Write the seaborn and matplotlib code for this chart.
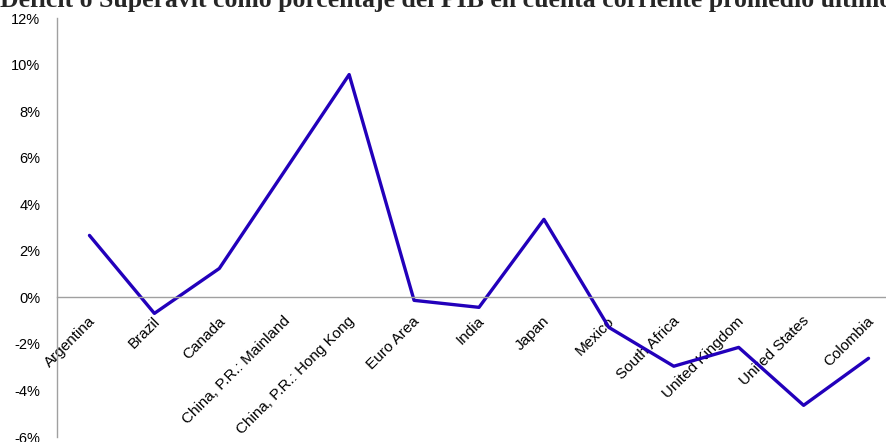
import matplotlib.pyplot as plt
import matplotlib.transforms as mtransforms
import numpy as np
import pandas as pd
import seaborn as sns
from matplotlib.ticker import FixedLocator, PercentFormatter

countries = ['Argentina', 'Brazil', 'Canada', 'China, P.R.: Mainland',
             'China, P.R.: Hong Kong', 'Euro Area', 'India', 'Japan', 'Mexico',
             'South Africa', 'United Kingdom', 'United States', 'Colombia']
balance = [2.66, -0.69, 1.24, 5.40, 9.57, -0.13, -0.43, 3.35, -1.29,
           -2.96, -2.15, -4.64, -2.62]
yticks = [-6, -4, -2, 0, 2, 4, 6, 8, 10, 12]
title = 'Déficit o Superávit como porcentaje del PIB en cuenta corriente promedio últimos años'

df = pd.DataFrame({'pais': countries, 'saldo': balance})

sns.set_style('white')
plt.rcParams['font.family'] = ['Liberation Sans', 'DejaVu Sans']
plt.rcParams['axes.unicode_minus'] = False

fig = plt.figure(figsize=(8.86, 4.42), dpi=100)
ax = fig.add_axes([57 / 886, 1 - 437 / 442, (901 - 57) / 886, (437 - 18) / 442])

sns.lineplot(data=df, x='pais', y='saldo', sort=False, color='#2200bb',
             linewidth=2.4, ax=ax)

ax.set_xlim(-0.5, len(countries) - 0.5)
ax.set_ylim(-6, 12)
ax.set_yticks(yticks)
ax.yaxis.set_major_formatter(PercentFormatter(decimals=0))
ax.set_xlabel('')
ax.set_ylabel('')

# eje izquierdo + eje horizontal en 0
for s in ['top', 'right']:
    ax.spines[s].set_visible(False)
ax.spines['bottom'].set_position(('data', 0))
for s in ['left', 'bottom']:
    ax.spines[s].set_color('#a0a0a0')
    ax.spines[s].set_linewidth(1.0)

# marcas entre categorias, etiquetas en el centro
ax.set_xticks(range(len(countries)))
ax.set_xticklabels(countries, rotation=45, ha='right', va='top',
                   rotation_mode='anchor', fontsize=11, color='black')
ax.xaxis.set_minor_locator(FixedLocator(np.arange(-0.5, len(countries), 1.0)))
ax.tick_params(axis='x', which='major', length=0, pad=12)
ax.tick_params(axis='x', which='minor', length=4, color='#a0a0a0', direction='out')
ax.tick_params(axis='y', length=4, color='#a0a0a0', direction='out',
               labelsize=10.5, labelcolor='black', pad=8)
shift = mtransforms.ScaledTranslation(-1.5 / 100, 0, fig.dpi_scale_trans)
for lab in ax.get_xticklabels():
    lab.set_transform(lab.get_transform() + shift)

fig.text(0.0, 1 - 7 / 442, title, family='Liberation Serif', weight='bold',
         fontsize=18.5, va='baseline', ha='left')

fig.savefig('out.png', dpi=100)
